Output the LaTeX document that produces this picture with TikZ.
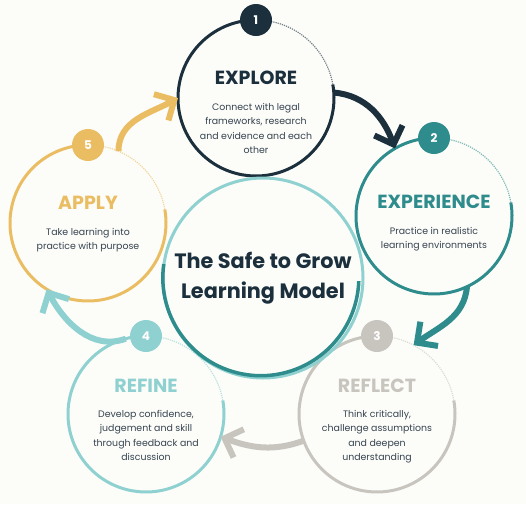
\documentclass[tikz,border=0pt]{standalone}
\usepackage{fontspec}
\setmainfont{Poppins}
\usetikzlibrary{arrows.meta,positioning}
\definecolor{navy}{HTML}{1C2F3D}
\definecolor{sea}{HTML}{2F8C8C}
\definecolor{stone}{HTML}{C8C5BE}
\definecolor{aqua}{HTML}{8FD1D0}
\definecolor{gold}{HTML}{EBBD63}
\definecolor{ink}{HTML}{36434F}
\definecolor{paper}{HTML}{FCFDF9}
\tikzset{
  ring/.style={circle,minimum size=156pt,inner sep=0pt,outer sep=0pt},
  badge/.style={circle,fill=#1,minimum size=32pt,inner sep=0pt,text=white,
    font=\bfseries\fontsize{12}{12}\selectfont},
  head/.style={text=#1,inner sep=0pt,font=\bfseries\fontsize{19}{19}\selectfont},
  blurb/.style={text=ink,inner sep=0pt,align=center,font=\fontsize{9.4}{14.5}\selectfont},
  flow/.style={draw=#1,line width=6pt,-{Straight Barb[length=15pt,width=30pt]}}
}
\begin{document}
\begin{tikzpicture}[x=1pt,y=1pt]
\fill[paper] (0,0) rectangle (526,-504);
\useasboundingbox (0,0) rectangle (526,-504);

\node[ring] (explore) at (256,-98) {};
\node[ring] (experience) at (434,-216) {};
\node[ring] (reflect) at (377,-414) {};
\node[ring] (refine) at (146,-414) {};
\node[ring] (apply) at (88,-223) {};
\node[circle,minimum size=200pt,inner sep=0pt,align=center,text=navy,
  font=\bfseries\fontsize{20.8}{30}\selectfont] (model) at (263,-278)
  {The Safe to Grow\\Learning Model};

\foreach \n/\c in {explore/navy,experience/sea,reflect/stone,refine/aqua,apply/gold}{
\draw[\c,line width=3pt] (\n.80) arc[start angle=80,end angle=370,radius=78pt];
\draw[\c,line width=1.2pt,densely dotted,opacity=0.6] (\n.10) arc[start angle=10,end angle=80,radius=78pt];
}
\draw[aqua,line width=3pt] (model) circle[radius=100pt];
\draw[sea,line width=3.5pt] (model.172) arc[start angle=172,end angle=358,radius=98pt];

\node[badge=navy] (one) at (explore.north) {1};
\node[badge=sea] (two) at (experience.north) {2};
\node[badge=stone] (three) at (reflect.north) {3};
\node[badge=aqua] (four) at (refine.north) {4};
\node[badge=gold] (five) at (apply.north) {5};

\node[head=navy] (exploreH) at ([yshift=20pt]explore.center) {EXPLORE};
\node[blurb,below=18pt of exploreH] (exploreB) {Connect with legal\\frameworks, research\\and evidence and each\\other};
\node[head=sea] (experienceH) at ([yshift=14pt]experience.center) {EXPERIENCE};
\node[blurb,below=18pt of experienceH] (experienceB) {Practice in realistic\\learning environments};
\node[head=stone] (reflectH) at ([yshift=28pt]reflect.center) {REFLECT};
\node[blurb,below=17pt of reflectH] (reflectB) {Think critically,\\challenge assumptions\\and deepen\\understanding};
\node[head=aqua] (refineH) at ([yshift=28pt]refine.center) {REFINE};
\node[blurb,below=17pt of refineH] (refineB) {Develop confidence,\\judgement and skill\\through feedback and\\discussion};
\node[head=gold] (applyH) at ([yshift=20pt]apply.center) {APPLY};
\node[blurb,below=18pt of applyH] (applyB) {Take learning into\\practice with purpose};

\draw[flow=navy] (explore.4) to[out=-5,in=110] (experience.120);
\draw[flow=sea] (experience.-65) to[out=-95,in=36] (reflect.62);
\draw[flow=stone] (reflect.200) to[out=200,in=-20] (refine.-17);
\draw[flow=aqua] (refine.105) to[out=200,in=-62] (apply.238);
\draw[flow=gold] (apply.67) to[out=90,in=209] (explore.180);
\end{tikzpicture}
\end{document}
